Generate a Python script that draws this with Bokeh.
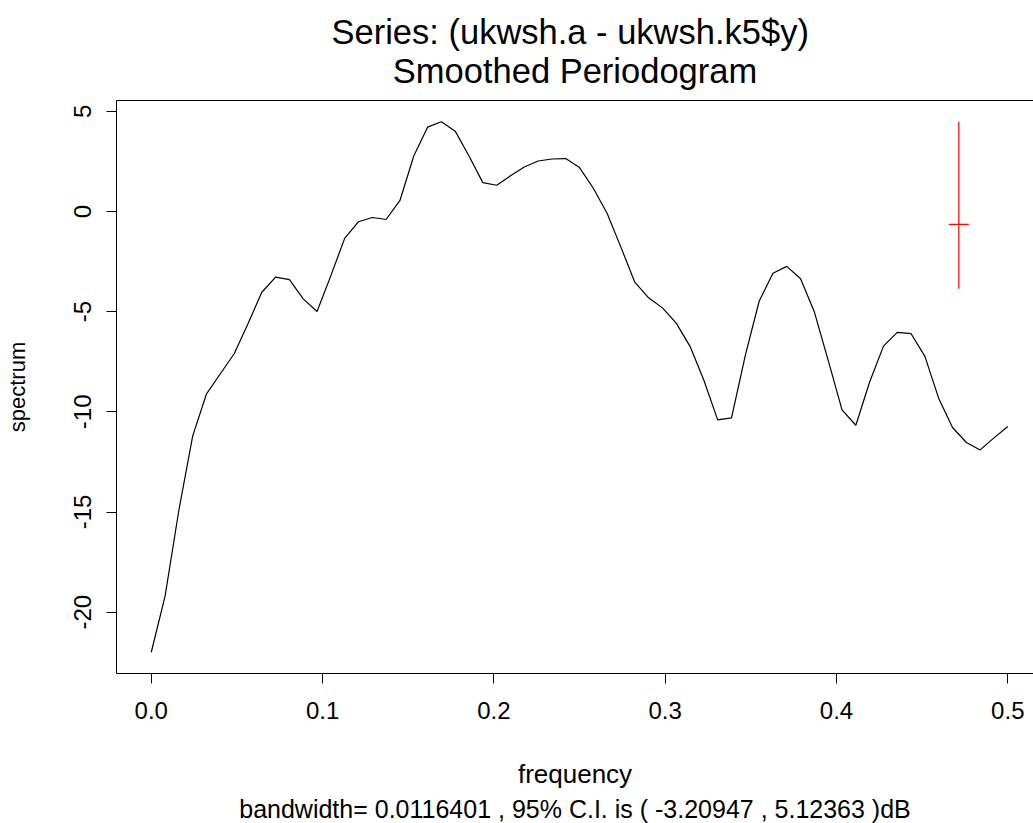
import math
from bokeh.plotting import figure
from bokeh.models import Range1d, FixedTicker, LinearAxis, Title, NumeralTickFormatter
from bokeh.embed import file_html
from bokeh.resources import INLINE

# ---- data ----
freq = [0.0, 0.00806, 0.01613, 0.02419, 0.03226, 0.04032, 0.04839, 0.05645, 0.06452, 0.07258,
        0.08065, 0.08871, 0.09677, 0.10484, 0.11290, 0.12097, 0.12903, 0.13710, 0.14516, 0.15323,
        0.16129, 0.16935, 0.17742, 0.18548, 0.19355, 0.20161, 0.20968, 0.21774, 0.22581, 0.23387,
        0.24194, 0.25, 0.25806, 0.26613, 0.27419, 0.28226, 0.29032, 0.29839, 0.30645, 0.31452,
        0.32258, 0.33065, 0.33871, 0.34677, 0.35484, 0.36290, 0.37097, 0.37903, 0.38710, 0.39516,
        0.40323, 0.41129, 0.41935, 0.42742, 0.43548, 0.44355, 0.45161, 0.45968, 0.46774, 0.47581,
        0.48387, 0.49194, 0.5]
spec_db = [-22.0, -19.2, -14.9, -11.2, -9.1, -8.1, -7.1, -5.6, -4.03, -3.28,
           -3.40, -4.36, -4.99, -3.2, -1.34, -0.51, -0.30, -0.40, 0.55, 2.77,
           4.21, 4.48, 4.01, 2.77, 1.44, 1.31, 1.78, 2.22, 2.52, 2.62,
           2.64, 2.19, 1.16, -0.10, -1.79, -3.53, -4.31, -4.81, -5.57, -6.73,
           -8.42, -10.40, -10.30, -7.18, -4.48, -3.08, -2.74, -3.36, -5.02, -7.43,
           -9.9, -10.67, -8.51, -6.72, -6.03, -6.10, -7.23, -9.33, -10.78, -11.53,
           -11.9, -11.3, -10.73]
bandwidth = 0.0116401
ci_lower_db = -3.20947
ci_upper_db = 5.12363
ci_freq = 0.4714

x_ticks = [0.0, 0.1, 0.2, 0.3, 0.4, 0.5]
y_ticks = [-20, -15, -10, -5, 0, 5]
y_tick_labels = {-20: "-20", -15: "-15", -10: "-10", -5: "-5", 0: "0", 5: "5"}

title1 = "Series:  (ukwsh.a - ukwsh.k5$y)"
title2 = "Smoothed Periodogram"
xlab = "frequency"
ylab = "spectrum"
sub = "bandwidth= 0.0116401 , 95% C.I. is ( -3.20947 , 5.12363 )dB"

FONT = "Liberation Sans"

# ---- layout ----
W, H = 1033, 823
FL, FT, FR, FB = 116, 100, 1033, 673
x0, x1 = -0.0203, 0.5150
y0, y1 = -23.06, 5.54

p = figure(width=W, height=H, output_backend="svg", toolbar_location=None,
           x_range=Range1d(x0, x1), y_range=Range1d(y0, y1),
           min_border_left=FL, min_border_right=W - FR,
           min_border_top=FT, min_border_bottom=H - FB,
           x_axis_type=None, y_axis_type=None)
p.outline_line_color = None
p.background_fill_color = "white"
p.border_fill_color = "white"
p.xgrid.visible = False
p.ygrid.visible = False

# axes
xa = LinearAxis(ticker=FixedTicker(ticks=x_ticks), formatter=NumeralTickFormatter(format="0.0"))
ya = LinearAxis(ticker=FixedTicker(ticks=y_ticks))
ya.major_label_overrides = y_tick_labels
ya.major_label_orientation = "vertical"
for ax in (xa, ya):
    ax.axis_line_color = "black"
    ax.axis_line_width = 1
    ax.major_tick_line_color = "black"
    ax.major_tick_in = 0
    ax.major_tick_out = 10
    ax.minor_tick_line_color = None
    ax.major_label_text_font = FONT
    ax.major_label_text_font_size = "24px"
    ax.major_label_text_color = "black"
    ax.axis_label_text_font = FONT
    ax.axis_label_text_font_style = "normal"
    ax.axis_label_text_color = "black"
xa.major_label_standoff = 18
ya.major_label_standoff = 15
xa.axis_label = xlab
xa.axis_label_text_font_size = "26px"
xa.axis_label_standoff = 37
ya.axis_label = ylab
ya.axis_label_text_font_size = "22px"
ya.axis_label_standoff = 42
p.add_layout(xa, "below")
p.add_layout(ya, "left")

top = LinearAxis(ticker=FixedTicker(ticks=[]))
top.axis_line_color = "black"
top.major_tick_line_color = None
top.minor_tick_line_color = None
top.major_tick_out = 0
top.major_label_standoff = 0
top.major_label_text_font_size = "0px"
p.add_layout(top, "above")

title_kw = dict(align="center", text_font=FONT, text_font_size="34.5px",
                text_font_style="normal", text_color="black",
                text_line_height=1.05, standoff=20)
if "text_align" in Title.properties():
    title_kw["text_align"] = "center"
p.add_layout(Title(text=title1 + "\n" + title2, **title_kw), "above")
p.add_layout(Title(text=sub, align="center", text_font=FONT, text_font_size="25px",
                   text_font_style="normal", text_color="black", standoff=2), "below")

# spectrum line
p.line(freq, spec_db, line_color="black", line_width=1.2)

# confidence interval bar
ci_center = max(spec_db) - ci_upper_db
p.line([ci_freq, ci_freq], [ci_center + ci_lower_db, ci_center + ci_upper_db],
       line_color="red", line_width=1.2)
p.line([ci_freq - bandwidth / 2, ci_freq + bandwidth / 2], [ci_center, ci_center],
       line_color="red", line_width=1.2)

open("out.html", "w").write(file_html(p, INLINE))
